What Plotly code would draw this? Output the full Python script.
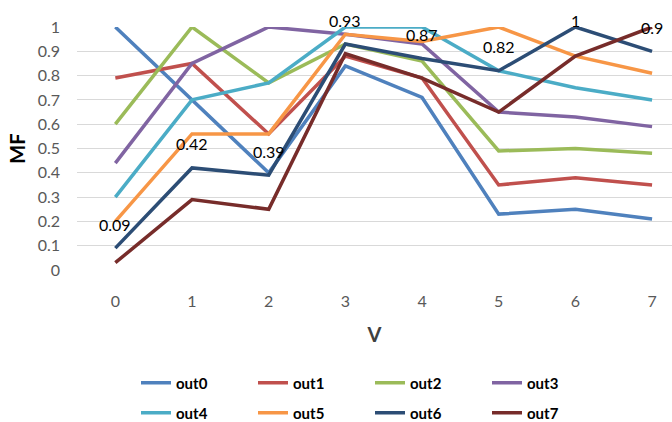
import plotly.graph_objects as go

# Category axis values
v_values = [0, 1, 2, 3, 4, 5, 6, 7]

# MF series
out0 = [1.00, 0.70, 0.40, 0.84, 0.71, 0.23, 0.25, 0.21]
out1 = [0.79, 0.85, 0.56, 0.88, 0.79, 0.35, 0.38, 0.35]
out2 = [0.60, 1.00, 0.77, 0.93, 0.86, 0.49, 0.50, 0.48]
out3 = [0.44, 0.85, 1.00, 0.97, 0.93, 0.65, 0.63, 0.59]
out4 = [0.30, 0.70, 0.77, 1.00, 1.00, 0.82, 0.75, 0.70]
out5 = [0.20, 0.56, 0.56, 0.97, 0.94, 1.00, 0.88, 0.81]
out6 = [0.09, 0.42, 0.39, 0.93, 0.87, 0.82, 1.00, 0.90]
out7 = [0.03, 0.29, 0.25, 0.89, 0.79, 0.65, 0.88, 1.00]

series_names = ["out0", "out1", "out2", "out3", "out4", "out5", "out6", "out7"]
series_values = [out0, out1, out2, out3, out4, out5, out6, out7]
series_colors = ["#4F81BD", "#C0504D", "#9BBB59", "#8064A2",
                 "#4BACC6", "#F79646", "#2C4D75", "#772C2A"]

y_ticks = [0, 0.1, 0.2, 0.3, 0.4, 0.5, 0.6, 0.7, 0.8, 0.9, 1]
y_tick_labels = ["0", "0.1", "0.2", "0.3", "0.4", "0.5", "0.6", "0.7", "0.8", "0.9", "1"]

FONT = "Lato, 'Liberation Sans', sans-serif"
W, H = 672, 422
M_L, M_R, M_T, M_B = 77, 0, 27, 152
plot_h = H - M_T - M_B
plot_w = W - M_L - M_R

fig = go.Figure()
for i, (name, vals, col) in enumerate(zip(series_names, series_values, series_colors)):
    fig.add_trace(go.Scatter(
        x=v_values, y=vals, name=name, mode="lines",
        line=dict(color=col, width=3.5),
        legend="legend" if i < 4 else "legend2",
        cliponaxis=False,
    ))

# value labels for out6, placed above each point but kept inside the top of the plot
for xv, yv in zip(v_values, out6):
    top_room = plot_h * (1 - yv) + 7
    shift = min(24, top_room)
    fig.add_annotation(
        x=xv, y=yv, text=f"{yv:g}", showarrow=False,
        yshift=shift, font=dict(family=FONT, size=16, color="#000000"),
    )

legend_style = dict(
    orientation="h", x=(136 - M_L) / plot_w, xanchor="left", yanchor="middle",
    entrywidth=72, entrywidthmode="pixels",
    font=dict(family=FONT, size=15, color="#000000", weight="bold"),
    bgcolor="rgba(0,0,0,0)", itemwidth=30,
)

fig.update_layout(
    width=W, height=H,
    margin=dict(l=M_L, r=M_R, t=M_T, b=M_B, pad=0, autoexpand=False),
    paper_bgcolor="white", plot_bgcolor="white",
    font=dict(family=FONT, size=16, color="#595959"),
    xaxis=dict(
        range=[-0.5, 7.26], tickmode="array", tickvals=v_values,
        ticktext=[str(v) for v in v_values],
        showgrid=False, zeroline=False, showline=False, ticks="",
        ticklabelstandoff=20,
        title=dict(text="<b>V</b>", font=dict(family=FONT, size=20, color="#404040"),
                   standoff=18),
    ),
    yaxis=dict(
        range=[0, 1], tickmode="array", tickvals=y_ticks, ticktext=y_tick_labels,
        showgrid=True, gridcolor="#D9D9D9", gridwidth=1,
        zeroline=False, showline=False, ticks="",
        ticklabelstandoff=16,
        title=dict(text="<b>MF</b>", font=dict(family=FONT, size=20, color="#000000"),
                   standoff=6),
    ),
    legend=dict(legend_style, y=(M_T + plot_h - 383) / plot_h),
    legend2=dict(legend_style, y=(M_T + plot_h - 413) / plot_h),
)

fig.write_html("out.html")
